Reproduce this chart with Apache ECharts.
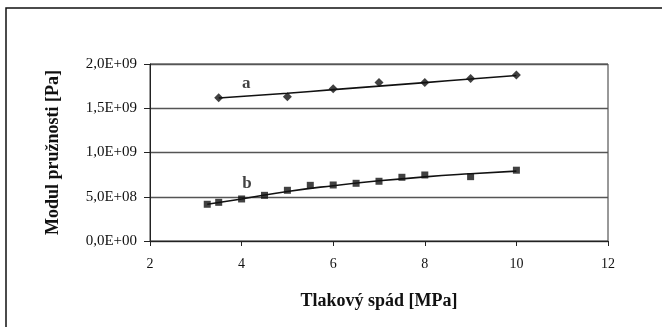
<!DOCTYPE html>
<html><head><meta charset="utf-8">
<script src="https://cdn.jsdelivr.net/npm/echarts@6/dist/echarts.min.js"></script>
<style>html,body{margin:0;padding:0;background:#fff}#c{width:662px;height:327px}</style>
</head><body><div id="c"></div>
<script>
// Series a (diamonds)
const aX = [3.5, 5, 6, 7, 8, 9, 10];
const aY = [1.62e9, 1.63e9, 1.72e9, 1.79e9, 1.79e9, 1.835e9, 1.875e9];
// Trendline a
const aTrendX = [3.5, 5, 6, 7, 8, 9, 10];
const aTrendY = [1.615e9, 1.67e9, 1.71e9, 1.75e9, 1.79e9, 1.83e9, 1.87e9];
// Series b (squares)
const bX = [3.25, 3.5, 4, 4.5, 5, 5.5, 6, 6.5, 7, 7.5, 8, 9, 10];
const bY = [0.415e9, 0.437e9, 0.475e9, 0.516e9, 0.573e9, 0.629e9, 0.633e9, 0.652e9, 0.675e9, 0.72e9, 0.746e9, 0.727e9, 0.80e9];
// Trendline b
const bTrendX = [3.25, 4, 5, 6, 7, 8, 9, 10];
const bTrendY = [0.415e9, 0.475e9, 0.56e9, 0.625e9, 0.68e9, 0.725e9, 0.76e9, 0.79e9];
// Curve labels
const labelA = [4.1, 1.775e9];
const labelB = [4.12, 0.645e9];
// Axes
const xMin = 2, xMax = 12, xStep = 2;
const yMin = 0, yMax = 2e9, yStep = 0.5e9;
const xTitle = 'Tlakový spád [MPa]';
const yTitle = 'Modul pružnosti [Pa]';

const zip = (xs, ys) => xs.map((x, i) => [x, ys[i]]);
function fmtY(v) {
  const s = v.toExponential(1).toUpperCase().replace('.', ',');
  return s.replace(/E([+-])(\d)$/, 'E$10$2');
}
const font = 'Liberation Serif';
const chart = echarts.init(document.getElementById('c'));
chart.setOption({
  animation: false,
  backgroundColor: '#fff',
  graphic: [{type: 'rect', shape: {x: 6, y: 8, width: 700, height: 400}, style: {fill: 'none', stroke: '#111', lineWidth: 1.5}}],
  grid: {left: 150, right: 54, top: 64, bottom: 86, show: true, borderColor: '#333', borderWidth: 1},
  xAxis: {
    type: 'value', min: xMin, max: xMax, interval: xStep,
    name: xTitle, nameLocation: 'middle', nameGap: 51,
    nameTextStyle: {fontFamily: font, fontWeight: 'bold', fontSize: 18, color: '#111'},
    axisLine: {show: true, lineStyle: {color: '#222', width: 1}},
    axisTick: {show: true, length: 5, lineStyle: {color: '#222'}},
    axisLabel: {fontFamily: font, fontSize: 14, color: '#111', margin: 16},
    splitLine: {show: false}
  },
  yAxis: {
    type: 'value', min: yMin, max: yMax, interval: yStep,
    name: yTitle, nameLocation: 'middle', nameGap: 88,
    nameTextStyle: {fontFamily: font, fontWeight: 'bold', fontSize: 18, color: '#111'},
    axisLine: {show: true, lineStyle: {color: '#222', width: 1}},
    axisTick: {show: true, length: 6, lineStyle: {color: '#222'}},
    axisLabel: {fontFamily: font, fontSize: 15, color: '#111', margin: 13, formatter: fmtY},
    splitLine: {show: true, lineStyle: {color: '#555', width: 1.3}}
  },
  series: [
    {type: 'line', data: zip(aTrendX, aTrendY), smooth: true, showSymbol: false, symbol: 'none', lineStyle: {color: '#111', width: 1.6}, z: 2},
    {type: 'line', data: zip(bTrendX, bTrendY), smooth: true, showSymbol: false, symbol: 'none', lineStyle: {color: '#111', width: 1.6}, z: 2},
    {type: 'scatter', data: zip(aX, aY), symbol: 'diamond', symbolSize: 9, itemStyle: {color: '#111'}, z: 3},
    {type: 'scatter', data: zip(bX, bY), symbol: 'rect', symbolSize: 7, itemStyle: {color: '#111'}, z: 3},
    {type: 'scatter', symbolSize: 0, silent: true,
     data: [{value: labelA, label: {formatter: 'a'}}, {value: labelB, label: {formatter: 'b'}}],
     label: {show: true, position: 'inside', fontFamily: font, fontWeight: 'bold', fontSize: 17, color: '#111'}}
  ]
});
</script></body></html>
